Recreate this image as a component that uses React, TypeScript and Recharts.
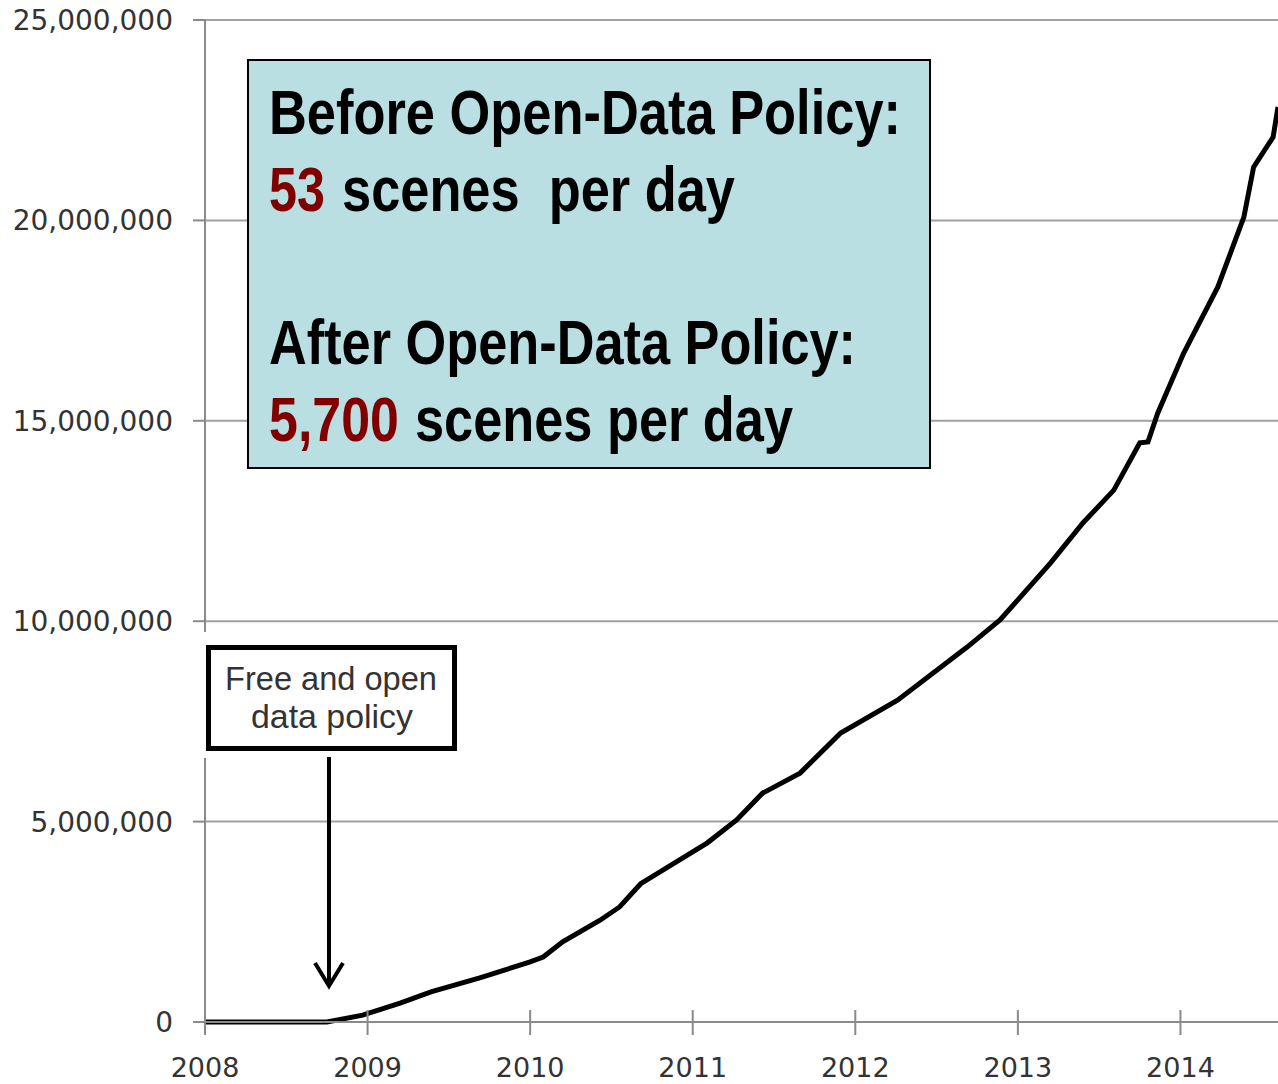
import React from 'react';
import {
  LineChart,
  Line,
  XAxis,
  YAxis,
  CartesianGrid,
} from 'recharts';

// cumulative Landsat scenes downloaded
const years = [
  2008.0, 2008.75, 2008.97, 2009.2, 2009.39, 2009.69, 2010.0, 2010.08, 2010.2,
  2010.43, 2010.55, 2010.68, 2011.09, 2011.27, 2011.43, 2011.66, 2011.91,
  2012.26, 2012.69, 2012.89, 2013.2, 2013.4, 2013.59, 2013.75, 2013.8,
  2013.86, 2014.02, 2014.23, 2014.39, 2014.45, 2014.57, 2014.6,
];
const scenes = [
  0, 0, 170000, 470000, 750000, 1100000, 1500000, 1620000, 2000000, 2540000,
  2870000, 3450000, 4470000, 5040000, 5710000, 6210000, 7210000, 8030000,
  9360000, 10030000, 11450000, 12450000, 13270000, 14450000, 14470000,
  15190000, 16690000, 18340000, 20080000, 21330000, 22080000, 22830000,
];
const yearTicks = [2008, 2009, 2010, 2011, 2012, 2013, 2014];
const sceneTicks = [0, 5000000, 10000000, 15000000, 20000000, 25000000];

const beforeLabel = 'Before Open-Data Policy:';
const beforeRate = '53';
const beforeUnit = 'scenes  per day';
const afterLabel = 'After Open-Data Policy:';
const afterRate = '5,700';
const afterUnit = 'scenes per day';
const policyNote = ['Free and open', 'data policy'];

const data = years.map((year, i) => ({ year, scenes: scenes[i] }));

const axisGray = '#8a8a8a';
const labelFont = 'DejaVu Sans, Verdana, sans-serif';
// Liberation Sans squeezed with textLength stands in for Arial Narrow
const narrow = '"Liberation Sans", Arial, sans-serif';

const YearTick = (props: any) => {
  const { x, y, payload } = props;
  return (
    <g>
      <line x1={x} x2={x} y1={y - 12} y2={y + 13} stroke={axisGray} strokeWidth={2} />
      <text x={x} y={y + 55} textAnchor='middle' fontSize={27} fill='#333' fontFamily={labelFont}>
        {payload.value}
      </text>
    </g>
  );
};

export default function App() {
  return (
    <div style={{ position: 'absolute', left: 0, top: 0, width: 1278, height: 1084, background: '#fff' }}>
      <LineChart width={1278} height={1084} data={data} margin={{ top: 20, right: 0, bottom: 0, left: 0 }}>
        <CartesianGrid vertical={false} stroke='#a0a0a0' strokeWidth={2} />
        <XAxis
          dataKey='year'
          type='number'
          domain={[2008, 2014.6]}
          ticks={yearTicks}
          allowDataOverflow
          height={62}
          tickSize={0}
          tickMargin={0}
          tickLine={false}
          axisLine={{ stroke: axisGray, strokeWidth: 2 }}
          tick={<YearTick />}
        />
        <YAxis
          type='number'
          domain={[0, 25000000]}
          ticks={sceneTicks}
          width={205}
          tickSize={12}
          tickMargin={20}
          tickLine={{ stroke: axisGray, strokeWidth: 2 }}
          axisLine={{ stroke: axisGray, strokeWidth: 2 }}
          tick={{ fontSize: 28, fill: '#333', fontFamily: labelFont }}
          tickFormatter={(v: number) => v.toLocaleString('en-US')}
        />
        <Line
          dataKey='scenes'
          type='linear'
          stroke='#000'
          strokeWidth={5}
          dot={false}
          isAnimationActive={false}
        />
      </LineChart>

      <svg width={1278} height={1084} style={{ position: 'absolute', left: 0, top: 0, pointerEvents: 'none' }}>
        {/* note box with arrow */}
        <rect x={199} y={632} width={262} height={126} fill='#fff' />
        <rect x={208.5} y={647.5} width={246} height={101} fill='#fff' stroke='#000' strokeWidth={5} />
        <g fontSize={34} fill='#333' fontFamily={narrow}>
          <text x={225} y={690} textLength={212} lengthAdjust='spacingAndGlyphs'>
            {policyNote[0]}
          </text>
          <text x={251} y={728} textLength={162} lengthAdjust='spacingAndGlyphs'>
            {policyNote[1]}
          </text>
        </g>
        <line x1={329} x2={329} y1={757} y2={985} stroke='#000' strokeWidth={4} />
        <polyline points='315,963 329,986 343,963' fill='none' stroke='#000' strokeWidth={4} />

        {/* rate comparison box */}
        <rect x={248} y={60} width={682} height={408} fill='#badfe3' stroke='#000' strokeWidth={2} />
        <g fontFamily={narrow} fontWeight='bold' fontSize={63} fill='#000'>
          <text x={269} y={134} textLength={632} lengthAdjust='spacingAndGlyphs'>
            {beforeLabel}
          </text>
          <text x={269} y={211} textLength={56} lengthAdjust='spacingAndGlyphs' fill='#800000'>
            {beforeRate}
          </text>
          <text x={342} y={211} textLength={393} lengthAdjust='spacingAndGlyphs' xmlSpace='preserve'>
            {beforeUnit}
          </text>
          <text x={269} y={364} textLength={587} lengthAdjust='spacingAndGlyphs'>
            {afterLabel}
          </text>
          <text x={269} y={441} textLength={130} lengthAdjust='spacingAndGlyphs' fill='#800000'>
            {afterRate}
          </text>
          <text x={415} y={441} textLength={378} lengthAdjust='spacingAndGlyphs'>
            {afterUnit}
          </text>
        </g>
      </svg>
    </div>
  );
}
